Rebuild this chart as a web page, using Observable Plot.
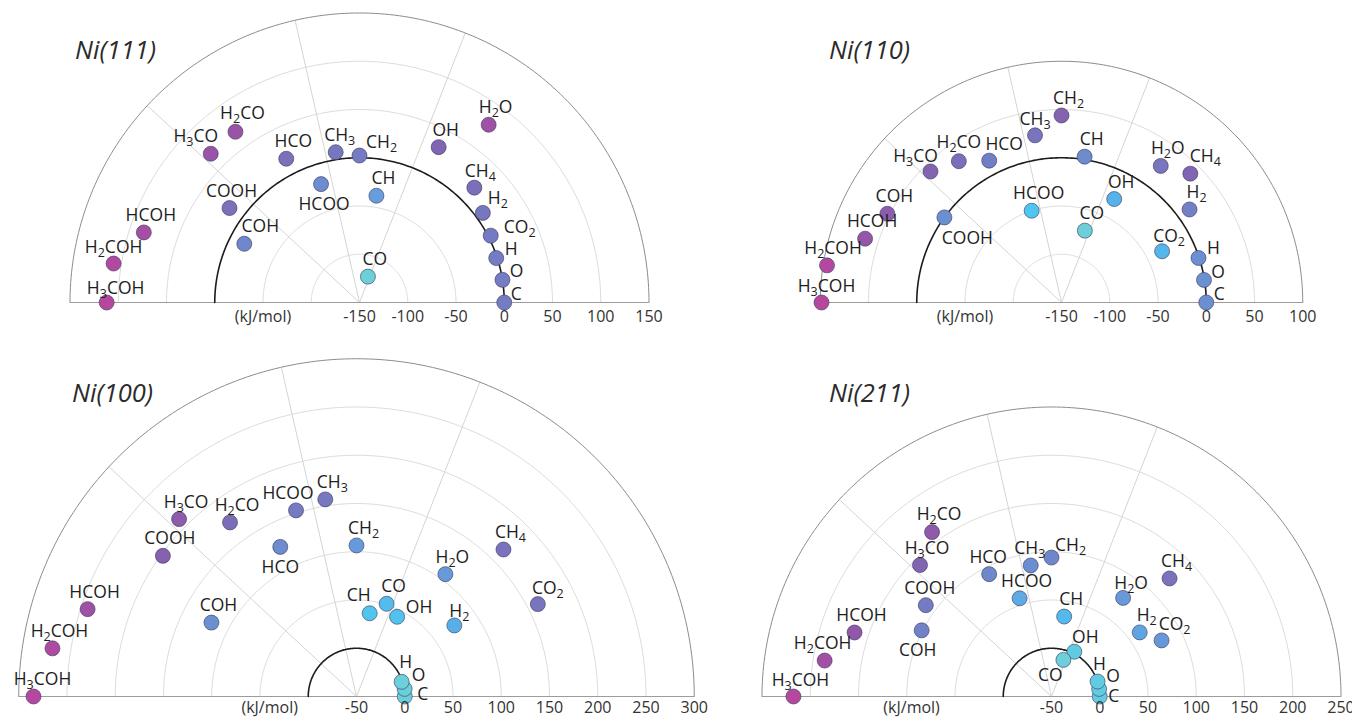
<!DOCTYPE html>
<html>
<head>
<meta charset="utf-8">
<script src="https://cdn.jsdelivr.net/npm/d3@7"></script>
<script src="https://cdn.jsdelivr.net/npm/@observablehq/plot@0.6"></script>
<style>
  body { margin: 0; background: #fff; }
  #wrap { position: relative; width: 1352px; height: 717px; overflow: hidden; font-family: "Open Sans", sans-serif; }
  .panel { position: absolute; }
  .title { position: absolute; font-family: "Open Sans", sans-serif; font-style: italic; font-size: 25.5px; line-height: 30px; color: #2b2b2b; white-space: nowrap; }
</style>
</head>
<body>
<div id="wrap"></div>
<script>
// Adsorbed species, ordered counter-clockwise from 0° to 180°
const species = ["C", "O", "H", "CO2", "H2", "CH4", "H2O", "OH", "CO", "CH", "CH2", "CH3",
                 "HCOO", "HCO", "H2CO", "H3CO", "COOH", "COH", "HCOH", "H2COH", "H3COH"];

// Binding energies (kJ/mol) on each nickel facet, same order as `species`
const ni111 = [0, 0, -1, 2.6, 8, 18.3, 77.7, 30.7, -121.8, -38, 2.3, 7.7,
               -21, 17.2, 68.7, 68, 16.5, -16, 85, 108, 112];
const ni110 = [0, -0.5, -0.7, -33, 14, 38.8, 25, -29.7, -71.7, 3, 43.8, 25.4,
               -50, 15, 31, 42, 0, 52.5, 64, 96, 98.7];
const ni100 = [0, 0.5, -0.8, 160.9, 75.3, 165.4, 106.7, 42.7, 51, 37.3, 106.5, 156.8,
               152.8, 124, 173, 210, 198, 118.7, 243, 269, 284.7];
const ni211 = [0, 0, 0.2, 78, 63, 123, 76.3, 2.1, -10.1, 33.9, 94, 87.5,
               57, 92.3, 160.6, 142.7, 111, 101, 164.6, 188, 217.4];

const surfaces = ["Ni(111)", "Ni(110)", "Ni(100)", "Ni(211)"];
const seriesList = [ni111, ni110, ni100, ni211];
const axisMin = [-150, -150, -50, -50];
const axisMax = [150, 100, 300, 250];
const tickStep = 50;
const unitLabelAt = [-50, -50, 40, 95];   // mirrored value where "(kJ/mol)" sits

// ---- layout & styling ----
const PX_PER_KJ = 0.965;
const layout = [
  {left: 0,   top: 0,   width: 676, height: 340, cx: 359, cy: 302, tx: 75,  ty: 34,  tickDy: 14},
  {left: 676, top: 0,   width: 676, height: 340, cx: 385, cy: 302, tx: 829, ty: 34,  tickDy: 14},
  {left: 0,   top: 340, width: 720, height: 377, cx: 356, cy: 356, tx: 72,  ty: 377, tickDy: 11},
  {left: 720, top: 340, width: 632, height: 377, cx: 331, cy: 356, tx: 829, ty: 377, tickDy: 11}
];
const spokeFractions = [8 / 21, 12 / 21, 16 / 21];
const colorStops = [0, 0.12, 0.25, 0.36, 0.45, 0.55, 0.65, 0.78, 0.9, 1];
const colorRange = ["#6ccfd9", "#4fc7ef", "#56b2ea", "#669edd", "#6e88cb",
                    "#7778c0", "#8066b2", "#9357a8", "#a74da3", "#b6479f"];

// label offsets in pixels (dx, dy) relative to each dot
const defaultOffset = [7, -17];
const labelOffsets = [
  {C: [12, -8], O: [14, -8], H: [15, -9], CO2: [29, -8], H2: [15, -14], CH4: [6, -16],
   CH2: [22, -13], CH3: [4, -17], H3CO: [-15, -17], HCOO: [3, 20], COOH: [2, -17],
   COH: [16, -17], H2COH: [0, -16], H3COH: [9, -14], H2CO: [7, -18]},
  {C: [13, -8], O: [14, -8], H: [15, -10], CO2: [7, -15], CH4: [15, -17], HCO: [15, -16],
   H2CO: [0, -19], H3CO: [-15, -15], CH3: [0, -16], COOH: [23, 21], H3COH: [5, -16],
   H2COH: [6, -17]},
  {H: [4, -19], O: [14, -13], C: [18, -2], CH: [-11, -18], OH: [22, -9], H2: [5, -14],
   CO2: [10, -16], HCOO: [-8, -17], HCO: [0, 20], H3COH: [9, -17]},
  {H: [2, -17], O: [14, -13], C: [14, 0], OH: [11, -14], CO: [-13, 16], H2O: [8, -15],
   CO2: [13, -16], CH2: [19, -12], CH3: [-1, -17], HCO: [-1, -17], H2CO: [7, -18],
   COOH: [4, -17], COH: [-4, 20], H2COH: [-2, -17], H3COH: [7, -16]}
];

const wrap = document.getElementById("wrap");

// semicircle polyline of radius r (in kJ/mol units from the centre)
function arc(r, key) {
  return d3.range(0, 181, 1).map(a => ({
    key, x: r * Math.cos(a * Math.PI / 180), y: r * Math.sin(a * Math.PI / 180)
  }));
}

// render digits in chemical formulas as subscripts
function subscriptify(textNodes) {
  textNodes.forEach(t => {
    const s = t.textContent;
    if (!/\d/.test(s)) return;
    t.textContent = "";
    let lowered = false;
    for (const part of s.match(/\d+|\D+/g)) {
      const ts = document.createElementNS("http://www.w3.org/2000/svg", "tspan");
      ts.textContent = part;
      if (/\d/.test(part)) {
        ts.setAttribute("font-size", "12.5");
        ts.setAttribute("dy", "4");
        lowered = true;
      } else if (lowered) {
        ts.setAttribute("dy", "-4");
        lowered = false;
      }
      t.appendChild(ts);
    }
  });
}

surfaces.forEach((name, i) => {
  const L = layout[i];
  const vmin = axisMin[i], vmax = axisMax[i];
  const R = vmax - vmin;
  const k = PX_PER_KJ;
  const values = seriesList[i];
  const n = species.length;

  const rows = species.map((s, j) => {
    const theta = j * Math.PI / (n - 1);
    const r = values[j] - vmin;
    const off = labelOffsets[i][s] || defaultOffset;
    const x = r * Math.cos(theta), y = r * Math.sin(theta);
    return {name: s, value: values[j], x, y, lx: x + off[0] / k, ly: y - off[1] / k};
  });

  const lo = d3.min(values), hi = d3.max(values);
  const ticks = d3.range(vmin, vmax + 1e-9, tickStep);
  const gridVals = ticks.filter(v => v !== vmin && v !== 0 && v !== vmax);
  const gridArcs = gridVals.flatMap(v => arc(v - vmin, v));
  const spokes = spokeFractions.map(f => ({
    x2: R * Math.cos(f * Math.PI), y2: R * Math.sin(f * Math.PI)
  }));

  const chart = Plot.plot({
    width: L.width,
    height: L.height,
    margin: 0,
    style: {fontFamily: "Open Sans, sans-serif", background: "transparent", overflow: "visible"},
    x: {domain: [-L.cx / k, (L.width - L.cx) / k], range: [0, L.width], axis: null},
    y: {domain: [-(L.height - L.cy) / k, L.cy / k], range: [L.height, 0], axis: null},
    color: {type: "linear", domain: colorStops.map(f => lo + f * (hi - lo)), range: colorRange, clamp: true},
    marks: [
      Plot.line(gridArcs, {x: "x", y: "y", z: "key", stroke: "#dcdcdc", strokeWidth: 1}),
      Plot.link(spokes, {x1: () => 0, y1: () => 0, x2: "x2", y2: "y2", stroke: "#d4d4d4", strokeWidth: 1}),
      Plot.line(arc(R, "outer"), {x: "x", y: "y", stroke: "#8c8c8c", strokeWidth: 1}),
      Plot.link([{x1: -R, x2: R}], {x1: "x1", x2: "x2", y1: () => 0, y2: () => 0, stroke: "#9c9c9c", strokeWidth: 1}),
      Plot.line(arc(0 - vmin, "zero"), {x: "x", y: "y", stroke: "#1c1c1c", strokeWidth: 1.6}),
      Plot.dot(rows, {x: "x", y: "y", r: 7.5, fill: "value", stroke: "#3e3e60", strokeWidth: 0.8, strokeOpacity: 0.8}),
      Plot.text(rows, {x: "lx", y: "ly", text: "name", fontSize: 17.5, fill: "#1e1e1e",
                       textAnchor: "middle", lineAnchor: "middle"}),
      Plot.text(ticks, {x: v => v - vmin, y: () => 0, text: v => String(v), dy: L.tickDy,
                        fontSize: 16, fill: "#333", lineAnchor: "middle"}),
      Plot.text(["(kJ/mol)"], {x: () => -(unitLabelAt[i] - vmin), y: () => 0, text: d => d, dy: L.tickDy,
                               fontSize: 16, fill: "#333", lineAnchor: "middle"})
    ]
  });

  // the first text mark holds the species labels
  const speciesGroup = chart.querySelector('g[aria-label="text"]');
  if (speciesGroup) subscriptify(Array.from(speciesGroup.querySelectorAll("text")));

  const holder = document.createElement("div");
  holder.className = "panel";
  holder.style.left = L.left + "px";
  holder.style.top = L.top + "px";
  holder.appendChild(chart);
  wrap.appendChild(holder);

  const title = document.createElement("div");
  title.className = "title";
  title.style.left = L.tx + "px";
  title.style.top = L.ty + "px";
  title.textContent = name;
  wrap.appendChild(title);
});
</script>
</body>
</html>
